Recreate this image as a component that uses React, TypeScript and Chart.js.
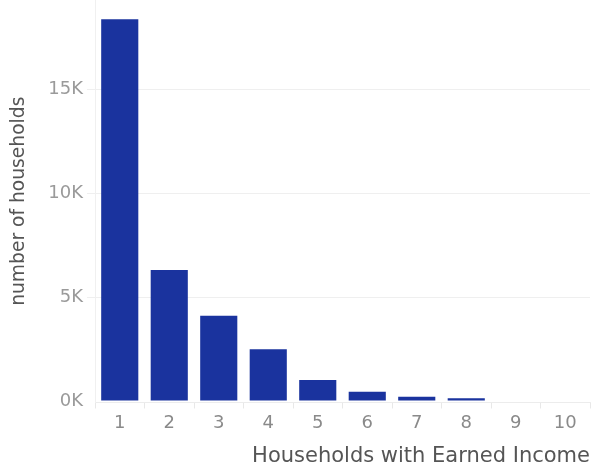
import React, { useEffect, useRef } from "react";
import { Chart, registerables } from "chart.js";

Chart.register(...registerables);

const categories = ["1", "2", "3", "4", "5", "6", "7", "8", "9", "10"];
const households = [18350, 6300, 4100, 2490, 1010, 450, 210, 130, 0, 0];
const yTicks = [0, 5000, 10000, 15000];
const yTitle = "number of households";
const xTitle = "Households with Earned Income";

const FONT = "'DejaVu Sans', sans-serif";

export default function App() {
  const ref = useRef<HTMLCanvasElement | null>(null);
  useEffect(() => {
    if (!ref.current) return;
    const chart = new Chart(ref.current, {
      type: "bar",
      data: {
        labels: categories,
        datasets: [
          {
            data: households,
            backgroundColor: "#1a339e",
            borderWidth: 0,
            categoryPercentage: 1,
            barPercentage: 0.75,
          },
        ],
      },
      options: {
        animation: false,
        responsive: false,
        maintainAspectRatio: false,
        layout: { padding: { left: 0, right: 10, top: 0, bottom: 0 } },
        plugins: { legend: { display: false }, tooltip: { enabled: false } },
        scales: {
          x: {
            grid: {
              offset: true,
              drawOnChartArea: false,
              drawTicks: true,
              tickLength: 6,
              color: "#e8e8e8",
            },
            border: { display: true, color: "#ececec" },
            ticks: {
              color: "#8a8a8a",
              font: { family: FONT, size: 18 },
              padding: 4,
              maxRotation: 0,
            },
            title: {
              display: true,
              text: xTitle,
              align: "end",
              color: "#555555",
              font: { family: FONT, size: 21 },
              padding: { top: 4, bottom: 2.5 },
            },
            afterFit: (s: any) => {
              s.height = 69.5;
              s.paddingLeft = 0;
              s.paddingRight = 0;
            },
          },
          y: {
            min: -70,
            max: 19280,
            afterBuildTicks: (s: any) => {
              s.ticks = yTicks.map((v) => ({ value: v }));
            },
            grid: {
              color: (c: any) => (c.tick && c.tick.value === 0 ? "rgba(0,0,0,0)" : "#efefef"),
              tickLength: 8,
              drawTicks: true,
            },
            border: { display: true, color: "#f0f0f0" },
            ticks: {
              color: "#9a9a9a",
              font: { family: FONT, size: 18 },
              padding: 4,
              callback: (v: any) => `${Math.round(Number(v) / 1000)}K`,
            },
            title: {
              display: true,
              text: yTitle,
              color: "#555555",
              font: { family: FONT, size: 18.7 },
              padding: { top: 8, bottom: 0 },
            },
            afterFit: (s: any) => {
              s.width = 95;
              s.paddingTop = 0;
              s.paddingBottom = 0;
            },
          },
        },
      },
    });
    return () => chart.destroy();
  }, []);
  return (
    <div style={{ position: "fixed", left: 0, top: 0, width: 600, height: 472, background: "#fff" }}>
      <canvas ref={ref} width={600} height={472} style={{ width: 600, height: 472 }} />
    </div>
  );
}
